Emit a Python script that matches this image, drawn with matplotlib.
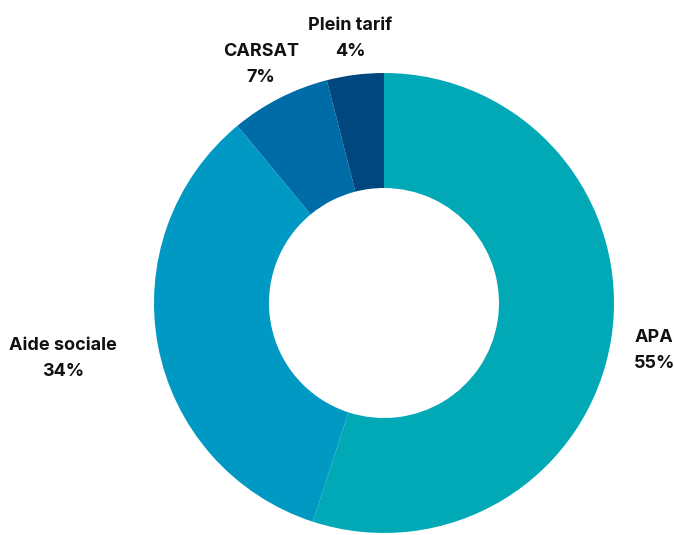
import numpy as np
import matplotlib
matplotlib.use("Agg")
import matplotlib.pyplot as plt

labels = ["APA", "Aide sociale", "CARSAT", "Plein tarif"]
values = [55, 34, 7, 4]
colors = ["#00A9B5", "#0099C4", "#006CA7", "#00467F"]
label_dist = [1.19, 1.42, 1.18, 1.17]
label_dy = [-0.02, 0.023, -0.016, -0.012]

plt.rcParams["font.family"] = ["Inter", "DejaVu Sans"]

fig = plt.figure(figsize=(6.74, 5.35), dpi=100)
ax = fig.add_axes([0, 0, 1, 1])

wedges, _ = ax.pie(values, colors=colors, startangle=90, counterclock=False,
                   radius=1.0, wedgeprops=dict(width=0.5, linewidth=0))

# labels at the middle angle of each wedge
for w, lab, v, d, dy in zip(wedges, labels, values, label_dist, label_dy):
    ang = np.deg2rad((w.theta1 + w.theta2) / 2)
    ax.text(d * np.cos(ang), d * np.sin(ang) + dy, f"{lab}\n{v}%",
            ha="center", va="center", fontsize=13, fontweight="bold",
            color="#111111", linespacing=1.7)

ax.set_xlim(-384 / 230, 290 / 230)
ax.set_ylim(-232 / 230, 303 / 230)
ax.set_aspect("equal")
ax.axis("off")

fig.savefig("out.png", dpi=100)
